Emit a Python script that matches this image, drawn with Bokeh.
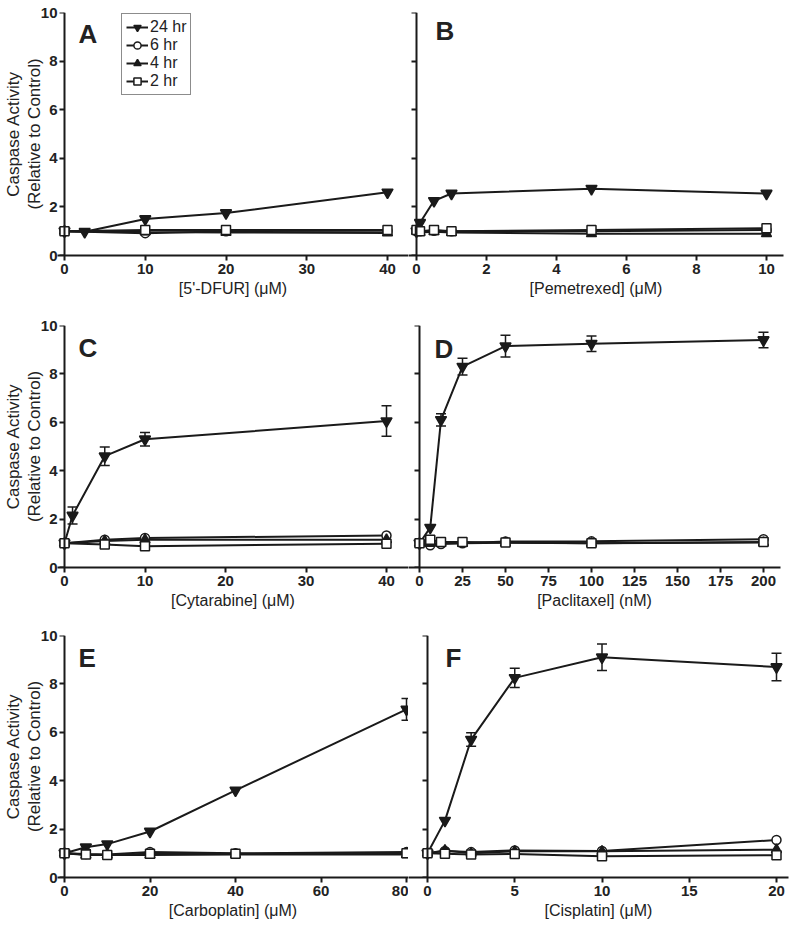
import math
from bokeh.plotting import figure
from bokeh.models import (Range1d, FixedTicker, Label, Legend, LegendItem,
                          Whisker, TeeHead, ColumnDataSource, LinearAxis)
from bokeh.layouts import row, column
from bokeh.embed import file_html
from bokeh.resources import INLINE

# ---------------- data ----------------
series_names = ["24 hr", "6 hr", "4 hr", "2 hr"]
y_ticks = [0, 2, 4, 6, 8, 10]
y_title = "Caspase Activity\n(Relative to Control)"

# A: 5'-DFUR (uM)
A_ticks = [0, 10, 20, 30, 40]
A_dose_24 = [0, 2.5, 10, 20, 40]
A_24 = [1.0, 0.98, 1.5, 1.75, 2.6]
A_err_24 = [0, 0, 0, 0, 0]
A_dose = [0, 10, 20, 40]
A_6 = [1.0, 0.92, 1.0, 1.02]
A_4 = [1.0, 0.97, 0.95, 0.93]
A_2 = [1.0, 1.05, 1.05, 1.05]

# B: Pemetrexed (uM)
B_ticks = [0, 2, 4, 6, 8, 10]
B_dose = [0, 0.1, 0.5, 1, 5, 10]
B_24 = [1.0, 1.35, 2.25, 2.55, 2.75, 2.55]
B_err_24 = [0, 0, 0, 0, 0, 0]
B_6 = [1.0, 1.0, 1.02, 1.0, 1.0, 1.05]
B_4 = [1.0, 0.95, 0.98, 0.95, 0.9, 0.9]
B_2 = [1.05, 1.0, 1.05, 1.0, 1.05, 1.12]

# C: Cytarabine (uM)
C_ticks = [0, 10, 20, 30, 40]
C_dose_24 = [0, 1, 5, 10, 40]
C_24 = [1.0, 2.15, 4.6, 5.3, 6.05]
C_err_24 = [0, 0.35, 0.38, 0.28, 0.63]
C_dose = [0, 5, 10, 40]
C_6 = [1.0, 1.15, 1.22, 1.32]
C_4 = [1.0, 1.1, 1.15, 1.15]
C_2 = [1.0, 0.95, 0.88, 0.98]

# D: Paclitaxel (nM)
D_ticks = [0, 25, 50, 75, 100, 125, 150, 175, 200]
D_dose = [0, 6.25, 12.5, 25, 50, 100, 200]
D_24 = [1.0, 1.65, 6.1, 8.3, 9.15, 9.25, 9.4]
D_err_24 = [0, 0, 0.25, 0.35, 0.45, 0.32, 0.32]
D_6 = [1.0, 0.92, 0.97, 1.0, 1.07, 1.08, 1.17]
D_4 = [1.0, 1.0, 1.0, 1.0, 1.02, 1.0, 1.03]
D_2 = [1.0, 1.15, 1.05, 1.05, 1.03, 1.0, 1.05]

# E: Carboplatin (uM)
E_ticks = [0, 20, 40, 60, 80]
E_dose = [0, 5, 10, 20, 40, 80]
E_24 = [1.0, 1.25, 1.38, 1.9, 3.6, 6.95]
E_err_24 = [0, 0.1, 0, 0, 0, 0.45]
E_6 = [1.0, 0.97, 0.95, 1.05, 1.0, 1.05]
E_4 = [1.0, 0.93, 0.93, 0.93, 0.95, 0.95]
E_2 = [1.0, 0.95, 0.93, 0.98, 0.98, 1.0]

# F: Cisplatin (uM)
F_ticks = [0, 5, 10, 15, 20]
F_dose = [0, 1, 2.5, 5, 10, 20]
F_24 = [1.0, 2.35, 5.7, 8.25, 9.1, 8.7]
F_err_24 = [0, 0, 0.28, 0.4, 0.55, 0.57]
F_6 = [1.0, 1.1, 1.05, 1.12, 1.1, 1.55]
F_4 = [1.0, 1.12, 1.0, 1.08, 1.08, 1.15]
F_2 = [1.0, 0.98, 0.95, 0.97, 0.88, 0.92]

# ---------------- styling ----------------
FONT = "Liberation Sans"
INK = "#1a1a1a"
TXT = "#222222"

# geometry in page pixels (layout starts at the page's top-left corner)
ROWS = [dict(top=0, h=318, ftop=12, fbot=255),
        dict(top=318, h=310, ftop=325, fbot=567),
        dict(top=628, h=300, ftop=635, fbot=877)]
LEFT = dict(fig_left=0, w=408, fl=57)
RIGHT = dict(fig_left=408, w=392, fl=408)

panels = [
    dict(letter="A", r=0, side="L", x0=64, xref=(40, 387), fr=408, title="[5'-DFUR] (μM)",
         ticks=A_ticks, d24=A_dose_24, v24=A_24, e24=A_err_24, d=A_dose, v6=A_6, v4=A_4, v2=A_2,
         letter_px=(78, 33), legend=True),
    dict(letter="B", r=0, side="R", x0=416, xref=(10, 766), fr=783, title="[Pemetrexed] (μM)",
         ticks=B_ticks, d24=B_dose, v24=B_24, e24=B_err_24, d=B_dose, v6=B_6, v4=B_4, v2=B_2,
         letter_px=(435, 30)),
    dict(letter="C", r=1, side="L", x0=64, xref=(40, 386), fr=408, title="[Cytarabine] (μM)",
         ticks=C_ticks, d24=C_dose_24, v24=C_24, e24=C_err_24, d=C_dose, v6=C_6, v4=C_4, v2=C_2,
         letter_px=(78, 347)),
    dict(letter="D", r=1, side="R", x0=419, xref=(200, 763), fr=780, title="[Paclitaxel] (nM)",
         ticks=D_ticks, d24=D_dose, v24=D_24, e24=D_err_24, d=D_dose, v6=D_6, v4=D_4, v2=D_2,
         letter_px=(434, 348)),
    dict(letter="E", r=2, side="L", x0=64, xref=(80, 406), fr=408, title="[Carboplatin] (μM)",
         ticks=E_ticks, d24=E_dose, v24=E_24, e24=E_err_24, d=E_dose, v6=E_6, v4=E_4, v2=E_2,
         letter_px=(78, 657)),
    dict(letter="F", r=2, side="R", x0=427, xref=(20, 776), fr=788, title="[Cisplatin] (μM)",
         ticks=F_ticks, d24=F_dose, v24=F_24, e24=F_err_24, d=F_dose, v6=F_6, v4=F_4, v2=F_2,
         letter_px=(445, 657)),
]


def make_panel(pp):
    rw = ROWS[pp["r"]]
    if pp["side"] == "L":
        fig_left, w, fl = LEFT["fig_left"], LEFT["w"], LEFT["fl"]
    else:
        fig_left, w, fl = RIGHT["fig_left"], RIGHT["w"], RIGHT["fl"]
    fr = pp["fr"]
    x0 = pp["x0"]
    ppu = (pp["xref"][1] - x0) / pp["xref"][0]
    ftop, fbot = rw["ftop"], rw["fbot"]
    ppuy = (fbot - ftop) / 10.0

    def sx(px):
        return (px - x0) / ppu

    def sy(py):
        return (fbot - py) / ppuy

    p = figure(width=w, height=rw["h"],
               x_range=Range1d(sx(fl), sx(fr)), y_range=Range1d(0, 10),
               output_backend="svg", toolbar_location=None,
               y_axis_location="left" if pp["side"] == "L" else "right",
               min_border_left=fl - fig_left,
               min_border_right=(fig_left + w) - fr,
               min_border_top=ftop - rw["top"],
               min_border_bottom=(rw["top"] + rw["h"]) - fbot)
    p.grid.visible = False
    p.outline_line_color = None
    p.background_fill_color = "white"
    p.border_fill_color = "white"

    xa = p.xaxis[0]
    xa.ticker = FixedTicker(ticks=pp["ticks"])
    xa.axis_label = pp["title"]
    xa.axis_label_text_font = FONT
    xa.axis_label_text_font_size = "16px"
    xa.axis_label_text_font_style = "normal"
    xa.axis_label_text_color = TXT
    xa.axis_label_standoff = 3
    xa.major_label_text_font = FONT
    xa.major_label_text_font_size = "15px"
    xa.major_label_text_font_style = "bold"
    xa.major_label_text_color = TXT
    xa.major_label_standoff = 3
    xa.major_tick_out = 5
    xa.major_tick_in = 0
    xa.minor_tick_line_color = None
    xa.axis_line_width = 2
    xa.major_tick_line_width = 2
    xa.axis_line_color = INK
    xa.major_tick_line_color = INK

    if pp["side"] == "L":
        # labels-only axis at the frame's left edge
        la = p.yaxis[0]
        la.ticker = FixedTicker(ticks=y_ticks)
        la.axis_line_color = None
        la.major_tick_line_color = None
        la.minor_tick_line_color = None
        la.major_tick_out = 0
        la.major_tick_in = 0
        la.major_label_standoff = 0
        la.major_label_text_font = FONT
        la.major_label_text_font_size = "15px"
        la.major_label_text_font_style = "bold"
        la.major_label_text_color = TXT
        la.axis_label = y_title
        la.axis_label_text_font = FONT
        la.axis_label_text_font_size = "17px"
        la.axis_label_text_font_style = "normal"
        la.axis_label_text_color = TXT
        la.axis_label_text_line_height = 1.1
        la.axis_label_standoff = -6
        fa = LinearAxis()
        p.add_layout(fa, "right")
    else:
        fa = p.yaxis[0]

    # the drawn y axis line sits at x = 0
    fa.fixed_location = 0
    fa.ticker = FixedTicker(ticks=y_ticks)
    fa.minor_tick_line_color = None
    fa.axis_line_width = 2
    fa.major_tick_line_width = 2
    fa.axis_line_color = INK
    fa.major_tick_line_color = INK
    fa.major_tick_out = 0
    fa.major_tick_in = 5
    fa.major_label_overrides = {t: "" for t in y_ticks}
    fa.major_label_standoff = 0

    # panel letter
    lx, ly = pp["letter_px"]
    p.add_layout(Label(x=sx(lx), y=sy(ly), text=pp["letter"], text_align="left",
                       text_baseline="alphabetic", text_font=FONT, text_font_size="26px",
                       text_font_style="bold", text_color=TXT))

    # error bars for 24 hr
    ex = [d for d, e in zip(pp["d24"], pp["e24"]) if e > 0]
    eu = [v + e for v, e in zip(pp["v24"], pp["e24"]) if e > 0]
    el = [v - e for v, e in zip(pp["v24"], pp["e24"]) if e > 0]
    if ex:
        src = ColumnDataSource(dict(x=ex, upper=eu, lower=el))
        p.add_layout(Whisker(base="x", upper="upper", lower="lower", source=src,
                             line_color=INK, line_width=1.5,
                             upper_head=TeeHead(size=10, line_color=INK, line_width=1.5),
                             lower_head=TeeHead(size=10, line_color=INK, line_width=1.5)))

    specs = [
        (pp["d24"], pp["v24"], "inverted_triangle", INK, 11),
        (pp["d"], pp["v6"], "circle", "white", 9),
        (pp["d"], pp["v4"], "triangle", INK, 10),
        (pp["d"], pp["v2"], "square", "white", 9),
    ]
    items = []
    for name, (xs, ys, mk, fill, sz) in zip(series_names, specs):
        lr = p.line(xs, ys, line_color=INK, line_width=2)
        mr = p.scatter(xs, ys, marker=mk, size=sz, fill_color=fill,
                       line_color=INK, line_width=1.5)
        items.append(LegendItem(label=name, renderers=[lr, mr]))

    if pp.get("legend"):
        leg = Legend(items=items, location=(64, 160),
                     label_text_font=FONT, label_text_font_size="16px",
                     label_text_color=TXT, label_height=18, glyph_height=18,
                     glyph_width=22, spacing=0, padding=4, margin=0,
                     label_standoff=2, border_line_color=INK, border_line_width=1.5,
                     background_fill_color="white", background_fill_alpha=1.0)
        p.add_layout(leg)
    return p


figs = [make_panel(pp) for pp in panels]
layout = column(row(figs[0], figs[1]), row(figs[2], figs[3]), row(figs[4], figs[5]))

open("out.html", "w").write(file_html(layout, INLINE))
